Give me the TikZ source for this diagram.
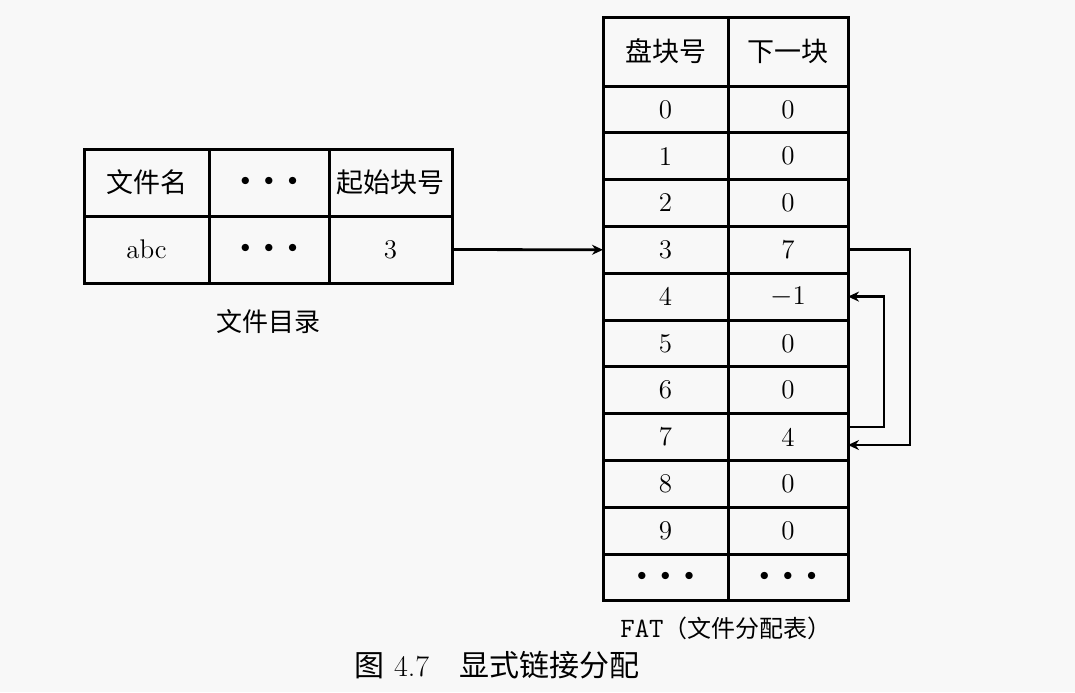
\documentclass[tikz,border=0pt]{standalone}
\usepackage{fontspec}
\newfontfamily\cjk{Noto Sans CJK SC}
\usetikzlibrary{arrows.meta}
\definecolor{paper}{RGB}{248,248,248}
\newcommand\threedots{\textbullet\hspace{1.5pt}\textbullet\hspace{1.5pt}\textbullet}

\begin{document}
\begin{tikzpicture}[x=0.5pt,y=-0.5pt,
  cell/.style={draw,line width=1.5pt,inner sep=0pt,outer sep=0pt,font=\fontsize{13.5}{15}\selectfont},
  dircell/.style={cell,minimum height=33.5pt},
  fatcell/.style={cell,minimum height=23.4pt},
  link/.style={line width=1.4pt,-{Stealth[length=5.5pt,width=5pt]}}]
\fill[paper] (0,0) rectangle (1075,692);   % page

% file directory
\node[dircell,minimum width=62.5pt] (dname)  at (146.5,182.5) {\cjk 文件名};
\node[dircell,minimum width=60pt]   (ddots)  at (269,182.5)   {\threedots};
\node[dircell,minimum width=61.5pt] (dstart) at (390.5,182.5) {\cjk 起始块号};
\node[dircell,minimum width=62.5pt] (fname)  at (146.5,249.5) {abc};
\node[dircell,minimum width=60pt]   (fdots)  at (269,249.5)   {\threedots};
\node[dircell,minimum width=61.5pt] (fstart) at (390.5,249.5) {3};
\node[font=\fontsize{13}{15}\selectfont\cjk] (dirlabel) at (268,322) {文件目录};

% FAT
\node[cell,minimum width=62.5pt,minimum height=34.5pt] (hblock) at (665.5,51.5) {\cjk 盘块号};
\node[cell,minimum width=60pt,minimum height=34.5pt]   (hnext)  at (788,51.5)   {\cjk 下一块};
\foreach \i/\nxt in {0/0,1/0,2/0,3/7,4/$-$1,5/0,6/0,7/4,8/0,9/0}{
  \node[fatcell,minimum width=62.5pt] (b\i) at (665.5,109.4+46.8*\i) {\i};
  \node[fatcell,minimum width=60pt]   (n\i) at (788,109.4+46.8*\i)   {\nxt};
}
\node[fatcell,minimum width=62.5pt] (bdots) at (665.5,577.4) {\threedots};
\node[fatcell,minimum width=60pt]   (ndots) at (788,577.4)   {\threedots};
\node[font=\fontsize{12}{14}\selectfont] (fatlabel) at (726,628) {{\fontsize{14}{14}\selectfont\texttt{FAT}}{\cjk（文件分配表）}};

% links
\draw[link] (fstart.east) -- (b3.west);
\draw[link] (n3.east) -- ++(62,0) |- ([yshift=-4pt]n7.east);        % 3 -> 7
\draw[link] ([yshift=5pt]n7.east) -- ++(36,0) |- (n4.east);         % 7 -> 4

\node[font=\fontsize{15}{18}\selectfont] (caption) at (497,665) {{\cjk 图} 4.7\quad{\cjk 显式链接分配}};
\end{tikzpicture}
\end{document}
